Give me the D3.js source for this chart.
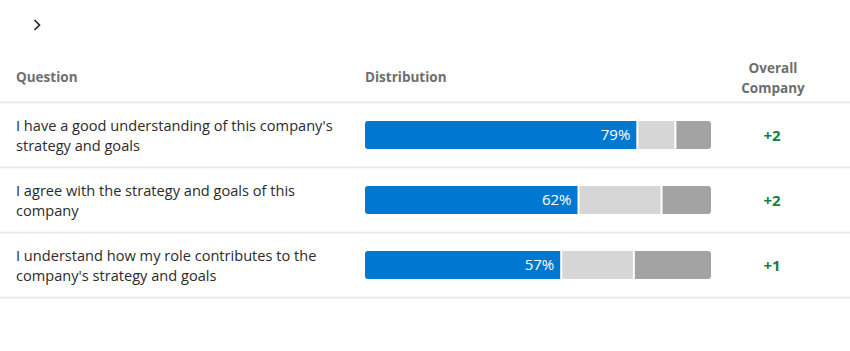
<!DOCTYPE html>
<html>
<head>
<meta charset="utf-8">
<script src="https://cdn.jsdelivr.net/npm/d3@7"></script>
<style>
  html, body { margin: 0; padding: 0; background: #fff; }
  svg { display: block; font-family: "Open Sans", sans-serif; }
</style>
</head>
<body>
<div id="chart"></div>
<script>
// data
const questions = [
  ["I have a good understanding of this company's", "strategy and goals"],
  ["I agree with the strategy and goals of this", "company"],
  ["I understand how my role contributes to the", "company's strategy and goals"]
];
const favorable = [79, 62, 57];
const neutral = [11, 24, 21];
const unfavorable = [10, 14, 22];
const overallDiff = ["+2", "+2", "+1"];
const columns = ["Question", "Distribution"];

const width = 850, height = 351;
const headY = 102, rowH = 65;
const svg = d3.select("#chart").append("svg")
  .attr("width", width)
  .attr("height", height);

const x = d3.scaleLinear().domain([0, 100]).range([365, 711]);
const y = d3.scaleBand().domain(d3.range(questions.length))
  .range([headY, headY + rowH * questions.length]);

const colors = ["#0078d2", "#d6d6d6", "#a3a3a3"];

// chevron
svg.append("path")
  .attr("d", "M34.5,20 L39.5,25 L34.5,30")
  .attr("fill", "none")
  .attr("stroke", "#222")
  .attr("stroke-width", 1.6);

// header
function head(txt, hx, hy, anchor) {
  svg.append("text").attr("x", hx).attr("y", hy).text(txt)
    .attr("text-anchor", anchor || "start")
    .attr("font-size", 13.5).attr("font-weight", 700).attr("fill", "#6e6e6e");
}
head(columns[0], 16, 82);
head(columns[1], 365, 82);
head("Overall", 773, 73, "middle");
head("Company", 773, 93, "middle");

// grid lines
svg.selectAll("line.sep")
  .data(d3.range(questions.length + 1))
  .enter().append("line")
  .attr("class", "sep")
  .attr("x1", 0).attr("x2", width)
  .attr("y1", d => headY + d * rowH + 0.5)
  .attr("y2", d => headY + d * rowH + 0.5)
  .attr("stroke", "#e6e6e6")
  .attr("stroke-width", 1.5);

const rows = svg.selectAll("g.row")
  .data(questions.map((q, i) => ({
    q: q, i: i,
    segs: [favorable[i], neutral[i], unfavorable[i]],
    diff: overallDiff[i]
  })))
  .enter().append("g")
  .attr("class", "row")
  .attr("transform", d => `translate(0,${y(d.i)})`);

// question text
rows.append("text")
  .attr("font-size", 14.6)
  .attr("fill", "#2b2b2b")
  .selectAll("tspan")
  .data(d => d.q)
  .enter().append("tspan")
  .attr("x", 16)
  .attr("y", (d, k) => 29 + k * 20)
  .text(d => d);

// bars
const barTop = 19, barH = 28;
rows.append("clipPath")
  .attr("id", d => "clip" + d.i)
  .append("rect")
  .attr("x", x(0)).attr("y", barTop)
  .attr("width", x(100) - x(0)).attr("height", barH)
  .attr("rx", 3);

rows.each(function(d) {
  const g = d3.select(this).append("g").attr("clip-path", `url(#clip${d.i})`);
  let start = 0;
  const stacked = d.segs.map((v, k) => {
    const s = { x0: start, x1: start + v, k: k, v: v };
    start += v;
    return s;
  });
  g.selectAll("rect")
    .data(stacked)
    .enter().append("rect")
    .attr("x", s => x(s.x0))
    .attr("y", barTop)
    .attr("width", s => x(s.x1) - x(s.x0) - (s.k < 2 ? 2 : 0))
    .attr("height", barH)
    .attr("fill", s => colors[s.k]);
  d3.select(this).append("text")
    .attr("x", x(stacked[0].x1) - 8)
    .attr("y", barTop + 19)
    .attr("text-anchor", "end")
    .attr("font-size", 15)
    .attr("fill", "#fff")
    .text(stacked[0].v + "%");
});

// overall company diff
rows.append("text")
  .attr("x", 772)
  .attr("y", 39)
  .attr("text-anchor", "middle")
  .attr("font-size", 15)
  .attr("font-weight", 700)
  .attr("fill", "#13803a")
  .text(d => d.diff);
</script>
</body>
</html>
